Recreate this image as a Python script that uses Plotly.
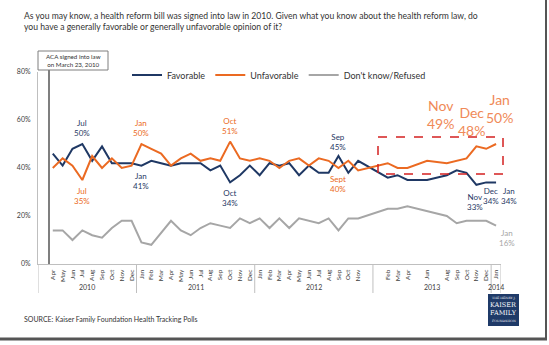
import plotly.graph_objects as go

# ---------------- data ----------------
years = ["2010", "2011", "2012", "2013", "2014"]
year_sizes = [10, 12, 12, 12, 1]          # number of month slots in each year group
months = [" ", "Apr", "May", "Jun", "Jul", "Aug", "Sep", "Oct", "Nov", "Dec",
          "Jan", "Feb", "Mar", "Apr", "May", "Jun", "Jul", "Aug", "Sep", "Oct", "Nov", "Dec",
          "Jan", "Feb", "Mar", "Apr", "May", "Jun", "Jul", "Aug", "Sep", "Oct", "Nov", " ",
          " ", "Feb", "Mar", "Apr", " ", "Jun", " ", "Aug", "Sep", "Oct", "Nov", "Dec",
          "Jan"]

favorable = [None, 46, 41, 48, 50, 43, 49, 42, 42, 42,
             41, 43, 42, 41, 42, 42, 42, 39, 41, 34, 37, 41,
             37, 42, 41, 42, 37, 41, 38, 38, 45, 38, 43, None,
             None, 36, 37, 35, None, 35, None, 37, 39, 38, 33, 34,
             34]
unfavorable = [None, 40, 44, 41, 35, 45, 40, 44, 40, 41,
               50, 48, 46, 41, 44, 46, 43, 44, 43, 51, 44, 43,
               44, 43, 40, 43, 44, 41, 44, 43, 40, 43, 39, None,
               None, 42, 40, 40, None, 43, None, 42, 43, 44, 49, 48,
               50]
dont_know = [None, 14, 14, 10, 14, 12, 11, 15, 18, 18,
             9, 8, 13, 18, 14, 12, 15, 17, 16, 15, 19, 17,
             19, 15, 19, 15, 19, 18, 17, 19, 14, 19, 19, None,
             None, 23, 23, 24, None, 22, None, 20, 17, 18, 18, 18,
             16]

y_ticks = [0, 20, 40, 60, 80]
y_tick_text = ["0%", "20%", "40%", "60%", "80%"]

NAVY = "#1F3864"
ORANGE = "#EB6A22"
GRAY = "#A6A6A6"
AXIS = "#BFBFBF"
FONT = "Lato"

# plot-area geometry (pixels)
W, H = 549, 345
ML, MR, MT, MB = 38, 48, 72, 81
PW, PH = W - ML - MR, H - MT - MB


def px(x):
    return (x - ML) / PW


def py(y):
    return (H - MB - y) / PH


idx = list(range(len(months)))

fig = go.Figure()
for name, vals, col in [("Favorable", favorable, NAVY),
                        ("Unfavorable", unfavorable, ORANGE),
                        ("Don't know/Refused", dont_know, GRAY)]:
    fig.add_trace(go.Scatter(x=idx, y=vals, mode="lines", name=name,
                             connectgaps=True,
                             line=dict(color=col, width=2)))

fig.update_layout(
    width=W, height=H,
    margin=dict(l=ML, r=MR, t=MT, b=MB),
    paper_bgcolor="white", plot_bgcolor="white",
    font=dict(family=FONT, color="#404040"),
    showlegend=True,
    legend=dict(orientation="h", x=px(127), y=py(75), xanchor="left", yanchor="middle",
                font=dict(size=9, color="#333333"), bgcolor="rgba(0,0,0,0)",
                tracegroupgap=0, itemwidth=30),
    xaxis=dict(range=[-0.5, len(months) - 0.5], tickmode="array", tickvals=idx, ticktext=months,
               tickangle=-90, showgrid=False, zeroline=False,
               ticks="outside", ticklen=2, tickcolor="rgba(0,0,0,0)",
               showline=True, linecolor=AXIS, linewidth=1,
               tickfont=dict(size=6.5, color="#404040", family=FONT)),
    yaxis=dict(range=[0, 80], tickvals=y_ticks, ticktext=y_tick_text, showgrid=False,
               zeroline=False, showline=True, linecolor=AXIS, linewidth=1,
               ticks="outside", ticklen=5, tickcolor="rgba(0,0,0,0)",
               tickfont=dict(size=7, color="#404040", family=FONT)),
)

ann = []
shapes = []


def note(x, y, text, size, color, xref="paper", yref="paper", xanchor="center",
         family=FONT, align="center"):
    ann.append(dict(x=x, y=y, xref=xref, yref=yref, xanchor=xanchor, yanchor="middle",
                    align=align, showarrow=False, text=text,
                    font=dict(size=size, color=color, family=family)))


# year group labels and dividers under the month axis
start = 0
bounds = [-0.5]
for yr, n in zip(years, year_sizes):
    centre = start + (n - 1) / 2
    note(centre, py(287), yr, 7, "#404040", xref="x")
    start += n
    bounds.append(start - 0.5)
for b in bounds:
    shapes.append(dict(type="line", xref="x", yref="paper", x0=b, x1=b, y0=0, y1=py(293),
                       line=dict(color=AXIS, width=1)))

# title
note(px(22), py(21.5),
     "As you may know, a health reform bill was signed into law in 2010. Given what you know about the health reform law, do<br>you have a generally favorable or generally unfavorable opinion of it?",
     8.6, "#333333", xanchor="left", align="left")
# ACA box text
note(px(73), py(60.5), "ACA signed into law<br>on March 23, 2010", 6.2, "#333333")
# source
note(px(22), py(319), "SOURCE: Kaiser Family Foundation Health Tracking Polls", 7, "#333333",
     xanchor="left")

small = [("Jul<br>50%", 82, 56.7, NAVY), ("Jul<br>35%", 82, 28.3, ORANGE),
         ("Jan<br>50%", 141, 56.7, ORANGE), ("Jan<br>41%", 141, 34.4, NAVY),
         ("Oct<br>51%", 230, 57.5, ORANGE), ("Oct<br>34%", 230, 27.3, NAVY),
         ("Sep<br>45%", 338, 51, NAVY), ("Sept<br>40%", 338, 33.5, ORANGE),
         ("Nov<br>33%", 475, 25.8, NAVY), ("Dec<br>34%", 491, 28.3, NAVY),
         ("Jan<br>34%", 509, 28.3, NAVY), ("Jan<br>16%", 507, 10.8, GRAY)]
for t, x, y, c in small:
    note(px(x), y, t, 8, c, yref="y")
big = [("Nov<br>49%", 440, 62.5), ("Dec<br>48%", 471, 59.4), ("Jan<br>50%", 499, 64.6)]
for t, x, y in big:
    note(px(x), y, t, 14, "#F08A58", yref="y")
# logo text
for t, yy, fs in [("THE HENRY J.", 298, 3.2), ("KAISER", 305, 6.5), ("FAMILY", 313, 6.5),
                  ("FOUNDATION", 321, 3.2)]:
    note(px(503.5), py(yy), t, fs, "white", family="DejaVu Serif")
fig.update_layout(annotations=ann)

# ACA box
shapes.append(dict(type="rect", xref="paper", yref="paper", x0=px(38), x1=px(108), y0=py(51), y1=py(70),
                   line=dict(color="#7F7F7F", width=1), fillcolor="white"))
# ACA vertical line
shapes.append(dict(type="line", xref="paper", yref="paper", x0=px(49), x1=px(49), y0=py(70), y1=py(264),
                   line=dict(color="#7F7F7F", width=2)))
# red dashed box
shapes.append(dict(type="rect", xref="paper", yref="paper", x0=px(378), x1=px(503), y0=py(137), y1=py(174),
                   line=dict(color="#D42020", width=1.5, dash="dash")))
# logo
shapes.append(dict(type="rect", xref="paper", yref="paper", x0=px(488), x1=px(519), y0=py(294), y1=py(326),
                   line=dict(width=0), fillcolor="#1F3A68"))
# frame shadow
shapes.append(dict(type="line", xref="paper", yref="paper", x0=px(546), x1=px(546), y0=py(0), y1=py(340),
                   line=dict(color="#555555", width=2)))
shapes.append(dict(type="line", xref="paper", yref="paper", x0=px(0), x1=px(547), y0=py(339), y1=py(339),
                   line=dict(color="#555555", width=3)))
fig.update_layout(shapes=shapes)

fig.write_html("out.html")
